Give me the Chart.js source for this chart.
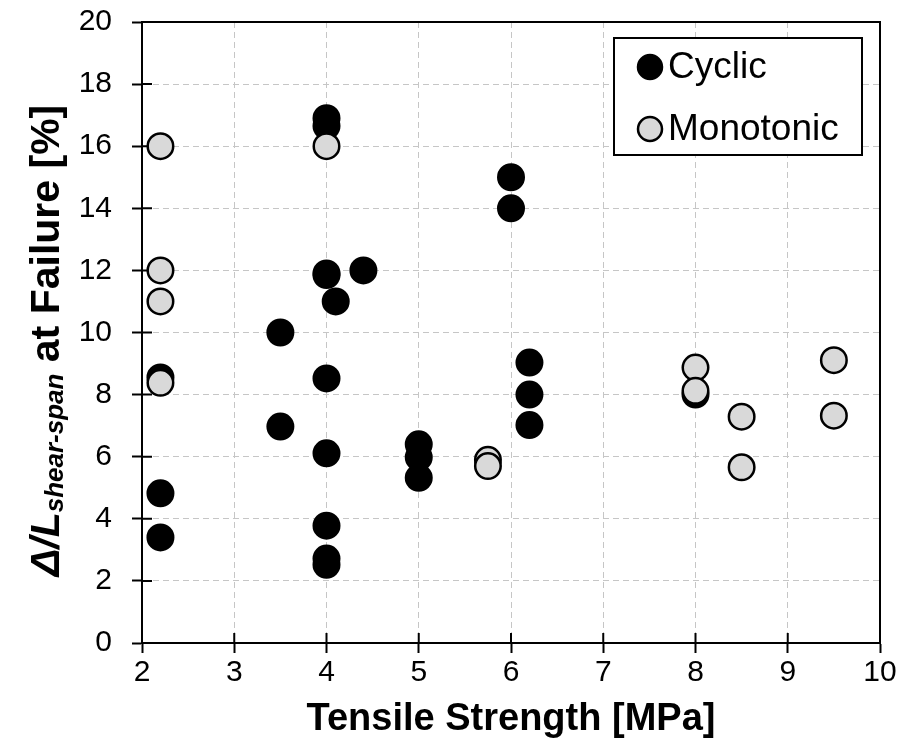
<!DOCTYPE html>
<html>
<head>
<meta charset="utf-8">
<script src="https://cdn.jsdelivr.net/npm/chart.js@4.4.0/dist/chart.umd.min.js"></script>
<style>
html, body { margin: 0; padding: 0; background: #fff; }
#wrap { width: 907px; height: 754px; }
</style>
</head>
<body>
<div id="wrap"><canvas id="chart" width="907" height="754"></canvas></div>
<script>
// values
const cyclicX = [2.2, 2.2, 2.2, 3.5, 3.5, 4.0, 4.0, 4.0, 4.0, 4.0, 4.0, 4.0, 4.0, 4.0, 4.1, 4.4, 5.0, 5.0, 5.0, 6.0, 6.0, 6.2, 6.2, 6.2, 8.0];
const cyclicY = [8.55, 4.82, 3.4, 10.0, 6.97, 16.9, 16.65, 11.9, 11.85, 8.52, 6.11, 3.78, 2.72, 2.52, 11.0, 12.0, 6.4, 5.98, 5.32, 15.0, 14.0, 9.03, 8.0, 7.02, 8.0];

const monoX = [2.2, 2.2, 2.2, 2.2, 4.0, 5.75, 5.75, 8.0, 8.0, 8.5, 8.5, 9.5, 9.5];
const monoY = [16.0, 12.0, 11.0, 8.38, 16.0, 5.9, 5.7, 8.87, 8.12, 7.29, 5.66, 9.11, 7.32];

const seriesNames = ['Cyclic', 'Monotonic'];
const xTickStep = 1;
const yTickStep = 2;

const FONT = '"Liberation Sans", Arial, Helvetica, sans-serif';
const GREY = '#d9d9d9';

const toPoints = (xs, ys) => xs.map((x, i) => ({ x, y: ys[i] }));

// border box + inner half of the tick marks, under the points
const frame = {
    id: 'frame',
    beforeDatasetsDraw(chart) {
        const { ctx, chartArea: a, scales: { x, y } } = chart;
        ctx.save();
        ctx.strokeStyle = '#000';
        ctx.lineWidth = 2;
        ctx.strokeRect(a.left, a.top, a.right - a.left, a.bottom - a.top);
        ctx.beginPath();
        y.ticks.forEach(t => {
            const p = y.getPixelForValue(t.value);
            ctx.moveTo(a.left, p);
            ctx.lineTo(a.left + 10, p);
        });
        x.ticks.forEach(t => {
            const p = x.getPixelForValue(t.value);
            ctx.moveTo(p, a.bottom);
            ctx.lineTo(p, a.bottom - 10);
        });
        ctx.stroke();
        ctx.restore();
    },
    afterDraw(chart) {
        const { ctx, chartArea: a } = chart;
        ctx.save();

        // legend box in the top right corner
        const bx = a.right - 266, by = a.top + 16, bw = 248, bh = 117;
        ctx.fillStyle = '#fff';
        ctx.fillRect(bx, by, bw, bh);
        ctx.strokeStyle = '#000';
        ctx.lineWidth = 2;
        ctx.strokeRect(bx, by, bw, bh);
        const rows = [
            { name: seriesNames[0], fill: '#000', cy: by + 29 },
            { name: seriesNames[1], fill: GREY, cy: by + 91 }
        ];
        ctx.font = '37px ' + FONT;
        ctx.textBaseline = 'middle';
        rows.forEach(r => {
            ctx.beginPath();
            ctx.arc(bx + 36, r.cy, 12, 0, Math.PI * 2);
            ctx.fillStyle = r.fill;
            ctx.fill();
            ctx.lineWidth = 2.5;
            ctx.strokeStyle = '#000';
            ctx.stroke();
            ctx.fillStyle = '#000';
            ctx.fillText(r.name, bx + 54, r.cy + 1);
        });

        // y axis title with the italic subscript
        const parts = [
            { t: 'Δ/L', f: 'italic bold 41px ' + FONT, dy: 0 },
            { t: 'shear-span', f: 'italic bold 26px ' + FONT, dy: 4 },
            { t: ' at Failure [%]', f: 'bold 41px ' + FONT, dy: 0 }
        ];
        let total = 0;
        parts.forEach(p => { ctx.font = p.f; p.w = ctx.measureText(p.t).width; total += p.w; });
        ctx.translate(59, (a.top + a.bottom) / 2 + 8);
        ctx.rotate(-Math.PI / 2);
        ctx.textBaseline = 'alphabetic';
        ctx.fillStyle = '#000';
        let u = -total / 2;
        parts.forEach(p => {
            ctx.font = p.f;
            ctx.fillText(p.t, u, p.dy);
            u += p.w;
        });
        ctx.restore();
    }
};

const pointStyle = fill => ({
    backgroundColor: fill,
    borderColor: '#000',
    borderWidth: 2.5,
    pointRadius: 12.75,
    pointHoverRadius: 12.75,
    showLine: false
});

new Chart(document.getElementById('chart'), {
    type: 'scatter',
    data: {
        datasets: [
            { label: seriesNames[0], data: toPoints(cyclicX, cyclicY), order: 2, ...pointStyle('#000') },
            { label: seriesNames[1], data: toPoints(monoX, monoY), order: 1, ...pointStyle(GREY) }
        ]
    },
    options: {
        responsive: false,
        animation: false,
        events: [],
        layout: { padding: { top: 22, right: 27, left: 0, bottom: 0 } },
        plugins: {
            legend: { display: false },
            tooltip: { enabled: false }
        },
        scales: {
            x: {
                type: 'linear',
                min: 2,
                max: 10,
                ticks: { stepSize: xTickStep, color: '#000', padding: 2, font: { family: FONT, size: 30 } },
                grid: { color: '#c6c6c6', lineWidth: 1, tickLength: 10, tickColor: '#000', tickWidth: 2 },
                border: { color: '#000', width: 2, dash: [6, 4] },
                title: {
                    display: true,
                    text: 'Tensile Strength [MPa]',
                    color: '#000',
                    font: { family: FONT, size: 38, weight: 'bold' },
                    padding: { top: 0, bottom: 12 }
                },
                afterFit(s) { s.height = 111; s.paddingLeft = 0; s.paddingRight = 0; }
            },
            y: {
                type: 'linear',
                min: 0,
                max: 20,
                ticks: { stepSize: yTickStep, color: '#000', padding: 20, font: { family: FONT, size: 30 } },
                grid: { color: '#c6c6c6', lineWidth: 1, tickLength: 10, tickColor: '#000', tickWidth: 2 },
                border: { color: '#000', width: 2, dash: [6, 4] },
                afterFit(s) { s.width = 142; s.paddingTop = 0; s.paddingBottom = 0; }
            }
        }
    },
    plugins: [frame]
});
</script>
</body>
</html>
